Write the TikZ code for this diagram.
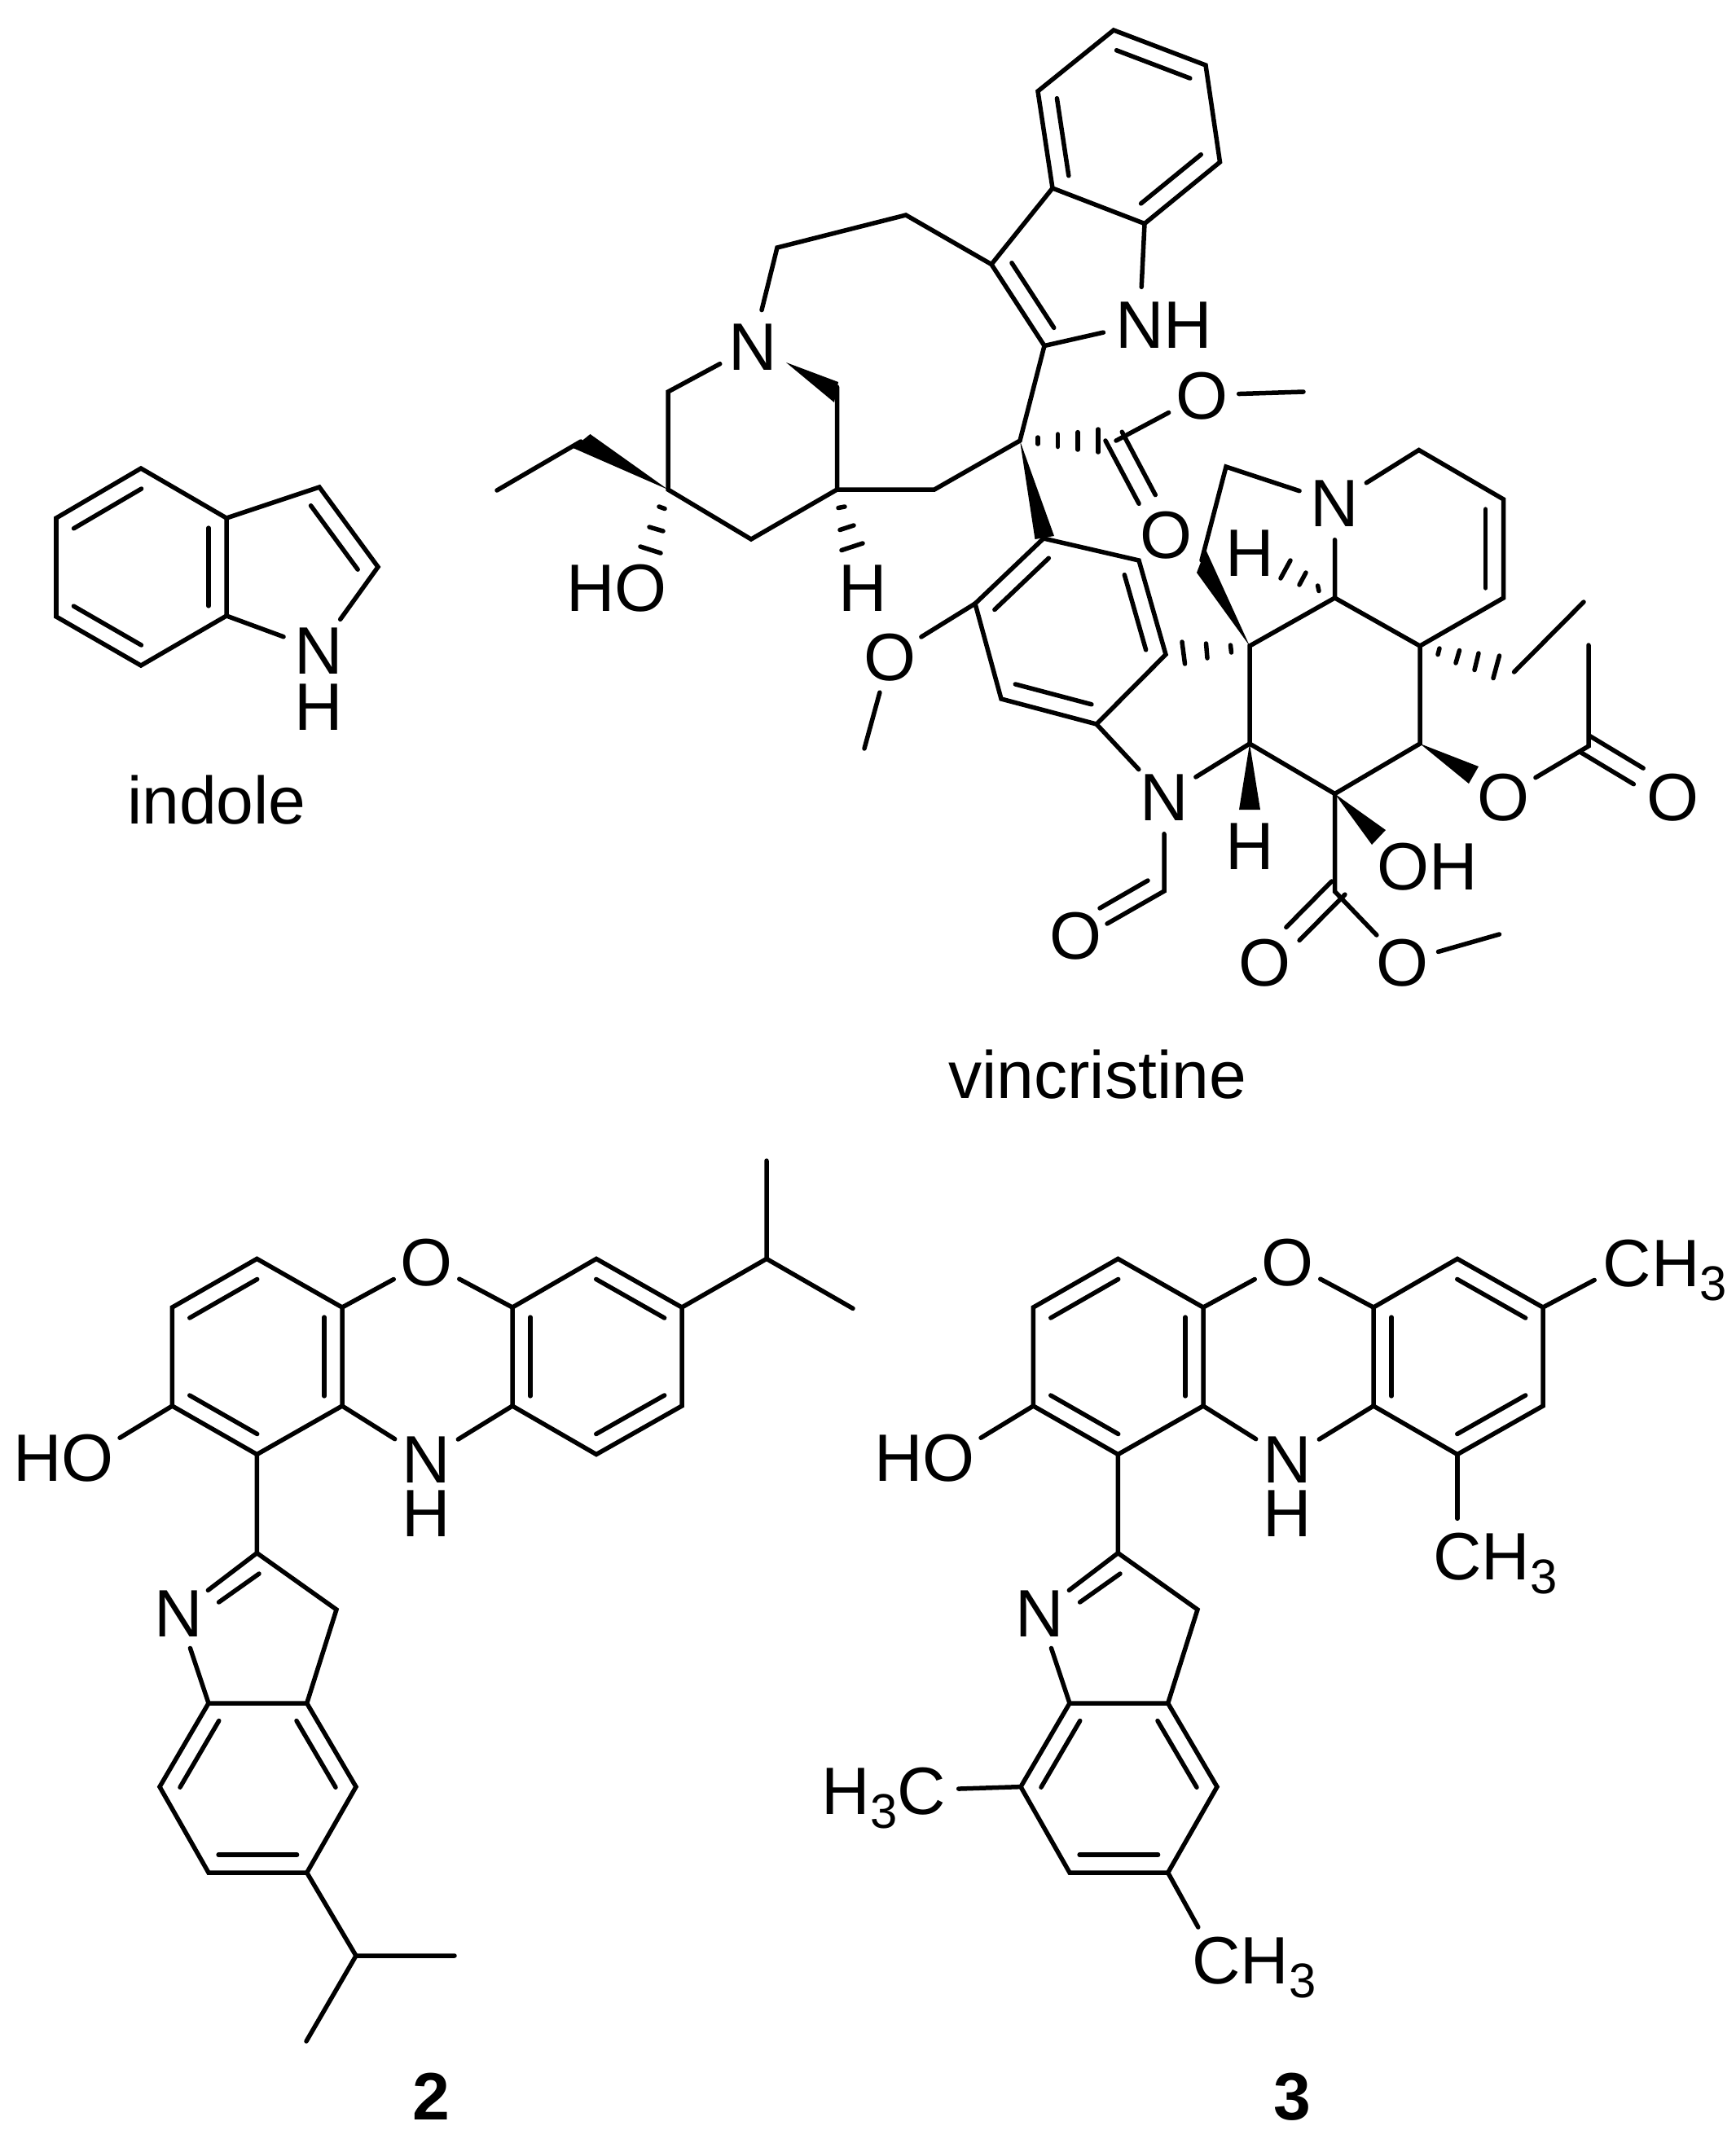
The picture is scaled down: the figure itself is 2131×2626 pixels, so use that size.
\documentclass[tikz,border=0pt]{standalone}
\usepackage{fontspec}
\setmainfont{Liberation Sans}
\usetikzlibrary{calc}
\newcommand{\threesub}{\raisebox{-0.17cm}{\fontsize{17}{20}\selectfont 3}}

\begin{document}
\begin{tikzpicture}[x=0.01cm,y=-0.01cm,
  bond/.style={line width=0.055cm,line cap=round},
  atom/.style={circle,inner sep=0pt,minimum size=0.9cm,text height=0.59cm,text depth=0pt,font=\fontsize{23.4}{28}\selectfont},
  hatom/.style={inner sep=0pt,text height=0.59cm,text depth=0pt,font=\fontsize{23.4}{28}\selectfont},
  caption/.style={anchor=base,inner sep=0pt,font=\fontsize{23.4}{28}\selectfont}]

\def\inbond#1#2{\draw[bond] ($(#1)!0.25cm!-61:(#2)$) -- ($(#2)!0.25cm!61:(#1)$);}
\def\cobond#1#2{
  \draw[bond] ($(#1)!0.13cm!118:(#2)$) -- ($(#2)!0.5cm!-13.2:(#1)$);
  \draw[bond] ($(#1)!0.13cm!-118:(#2)$) -- ($(#2)!0.5cm!13.2:(#1)$);
}

\useasboundingbox (0,0) rectangle (2131,2626);

% indole
\foreach \n/\xx/\yy in {ia/173/575,ib/278/636,ic/278/756,id/173/817,ie/69/757,if/69/636,ig/392/598,ih/464/696}
  \coordinate (\n) at (\xx,\yy);
\node[atom] (inh) at (391,797.5) {N};
\node[hatom] (inhh) at (391,867) {H};
\draw[bond] (ia) -- (ib) -- (ic) -- (id) -- (ie) -- (if) -- cycle;
\draw[bond] (ib) -- (ig) -- (ih) -- (inh) -- (ic);
\inbond{ib}{ic}
\inbond{id}{ie}
\inbond{if}{ia}
\inbond{ig}{ih}
\node[caption] (indolename) at (266,1011) {indole};

% vincristine
\foreach \n/\xx/\yy in {ba/1367/37,bb/1480/80,bc/1497.5/199,bd/1405/274.5,be/1292/231,bf/1274/112,
  pa/1217/324.5,pb/1282/424.5,ha/1112/264,hb/954/304,
  qa/820/481,qb/820/601,qc/922/662,qd/1027.5/601,qe/1027.5/475,qf/1147/601,cq/1252/541,
  eta/713/542,etb/610/602,est/1370/541,estm/1600/481,
  ara/1281/661,arb/1398/688,arc/1431/803.5,ard/1346/889,are/1229/858,arf/1197/741,ome/1061/919,
  cx/1534/793,cy/1638.5/734,cz/1743/793,cw/1845.6/734,cv/1845.6/613,cu/1741.7/552.5,cs/1505/573,cst/1475/688,
  cd/1534/913,ce/1743/913,cf/1638.5/974.5,etc/1858.6/825,etd/1944/739,
  cho/1429/1094,choe/1359/1134,choi/1409/1081,choj/1350/1115,
  acc/1950/916,acm/1950/792,cg/1638.5/1094.4,gme/1840.5/1147}
  \coordinate (\n) at (\xx,\yy);

\node[atom] (nva) at (924,425) {N};
\node[atom] (nhv) at (1399,398) {N\rlap{H}};
\node[atom] (ohq) at (787,720.5) {\llap{H}O};
\node[atom] (hq) at (1059,720.5) {H};
\node[atom] (oea) at (1475,485) {O};
\node[atom] (oeb) at (1431,656) {O};
\node[atom] (om) at (1092,806) {O};
\node[atom] (nvb) at (1638.5,617) {N};
\node[atom] (hy) at (1534,677.5) {H};
\node[atom] (nvc) at (1429,978) {N};
\node[atom] (oc) at (1320,1148) {O};
\node[atom] (hd) at (1534,1038) {H};
\node[atom] (of) at (1722,1063) {O\rlap{H}};
\node[atom] (oa) at (1845.6,978) {O};
\node[atom] (ob) at (2053,978) {O};
\node[atom] (oga) at (1552.7,1181) {O};
\node[atom] (ogb) at (1721.5,1181) {O};

\draw[bond] (ba) -- (bb) -- (bc) -- (bd) -- (be) -- (bf) -- cycle;
\draw[bond] (bd) -- (nhv) -- (pb) -- (pa) -- (be);
\inbond{ba}{bb}
\inbond{bc}{bd}
\inbond{be}{bf}
\inbond{pb}{pa}
\draw[bond] (pa) -- (ha) -- (hb) -- (nva) -- (qa) -- (qb) -- (qc) -- (qd) -- (qe);
\draw[bond] (qd) -- (qf) -- (cq) -- (pb);
\draw[bond] (eta) -- (etb);
\draw[bond] (est) -- (oea) -- (estm);
\cobond{est}{oeb}

\fill (965,445) -- (1029,469) -- (1024,494) -- cycle;
\fill (qb) -- (724.5,533) -- (703.5,550) -- cycle;
\fill (cq) -- (1294,658) -- (1270.5,662) -- cycle;
\fill (cx) -- (1480,674.5) -- (1469,703) -- cycle;
\fill (cd) -- (1547,994) -- (1521,994) -- cycle;
\fill (cf) -- (1701,1019) -- (1684,1037) -- cycle;
\fill (ce) -- (1815,941) -- (1803,962) -- cycle;

\foreach \xa/\ya/\xb/\yb in {809/622/816/624.5,797/647/814/652,786/671/811/679,
  1029/623.5/1037/622,1031/650.5/1048/645,1033/675.5/1059/667,
  1274/537/1274/545,1298.5/533/1298.5/548.5,1323/530.6/1323/552,1348/527/1348/555,
  1451/788/1454.5/815,1480.5/790/1482/808,1510.5/792/1511.5/801,
  1617.6/719/1619/725.5,1595/718/1603/703,1572/710/1584/688,
  1767/796/1765/803.6,1791.5/798.5/1787/814,1815/802/1810/822.5,1840.5/805/1833/832.6}
  \draw[bond] (\xa,\ya) -- (\xb,\yb);

\draw[bond] (ara) -- (arb) -- (arc) -- (ard) -- (are) -- (arf) -- cycle;
\inbond{arb}{arc}
\inbond{ard}{are}
\inbond{arf}{ara}
\draw[bond] (arf) -- (om) -- (ome);
\draw[bond] (ard) -- (nvc) -- (cd);
\draw[bond] (nvc) -- (cho) -- (choe);
\draw[bond] (choi) -- (choj);

\draw[bond] (cx) -- (cy) -- (cz) -- (ce) -- (cf) -- (cd) -- cycle;
\draw[bond] (cy) -- (nvb) -- (cu) -- (cv) -- (cw) -- (cz);
\inbond{cv}{cw}
\draw[bond] (nvb) -- (cs) -- (cst);
\draw[bond] (etc) -- (etd);
\draw[bond] (oa) -- (acc) -- (acm);
\cobond{acc}{ob}
\draw[bond] (cf) -- (cg) -- (ogb) -- (gme);
\cobond{cg}{oga}
\node[caption] (vincname) at (1347,1348) {vincristine};

% the two phenoxazines
\foreach \cpd/\dx/\num in {two/0/2,three/1057/3}{
\begin{scope}[shift={(\dx,0)},name prefix=\cpd-]
  \foreach \n/\xx/\yy in {aa/315.4/1545.4,ab/420/1605,ac/420/1726,ad/315.4/1785.5,ae/211.4/1726,af/211.4/1605,
    xa/629/1605,xb/732/1545.4,xc/837/1605,xd/837/1726,xe/732/1785.5,xf/629/1726,
    ca/315.4/1906.6,cb/413/1976,cc/376.7/2091,cj/256/2091,ci/268.6/1967,ch/318/1932,
    cd/437/2193.6,ce/376.7/2299,cf/256/2299,cg/196/2193.6}
    \coordinate (\n) at (\xx,\yy);
  \node[atom] (ox) at (523.4,1548.6) {O};
  \node[atom] (nr) at (523.4,1791) {N};
  \node[hatom] (nrh) at (523.4,1857.4) {H};
  \node[atom] (ho) at (108,1789) {\llap{H}O};
  \node[atom] (ni) at (219,1980) {N};
  \draw[bond] (aa) -- (ab) -- (ac) -- (ad) -- (ae) -- (af) -- cycle;
  \draw[bond] (xa) -- (xb) -- (xc) -- (xd) -- (xe) -- (xf) -- cycle;
  \draw[bond] (ab) -- (ox) -- (xa);
  \draw[bond] (ac) -- (nr) -- (xf);
  \draw[bond] (ae) -- (ho);
  \inbond{ab}{ac}
  \inbond{ad}{ae}
  \inbond{af}{aa}
  \inbond{xb}{xc}
  \inbond{xd}{xe}
  \inbond{xf}{xa}
  \draw[bond] (ad) -- (ca) -- (cb) -- (cc) -- (cj) -- (ni) -- (ca);
  \draw[bond] (ch) -- (ci);
  \draw[bond] (cc) -- (cd) -- (ce) -- (cf) -- (cg) -- (cj);
  \inbond{cc}{cd}
  \inbond{ce}{cf}
  \inbond{cg}{cj}
  \node[caption,font=\fontsize{23.4}{28}\selectfont\bfseries] (num) at (529,2602.5) {\num};
\end{scope}
}

% isopropyls of 2
\coordinate (ipa) at (941,1545.4);
\coordinate (ipb) at (941,1425);
\coordinate (ipc) at (1047,1606.4);
\coordinate (ipd) at (437,2401);
\coordinate (ipe) at (558,2401);
\coordinate (ipf) at (376,2506);
\draw[bond] (two-xc) -- (ipa) -- (ipb);
\draw[bond] (ipa) -- (ipc);
\draw[bond] (two-ce) -- (ipd) -- (ipe);
\draw[bond] (ipd) -- (ipf);

% methyls of 3
\node[atom] (mea) at (1997.6,1550) {C\rlap{H\threesub}};
\node[atom] (meb) at (1789,1910) {C\rlap{H\threesub}};
\node[atom] (mec) at (1131,2197.5) {\llap{H\threesub}C};
\node[atom] (med) at (1493,2406) {C\rlap{H\threesub}};
\draw[bond] (three-xc) -- (mea);
\draw[bond] (three-xe) -- (meb);
\draw[bond] (three-cg) -- (mec);
\draw[bond] (three-ce) -- (med);

\end{tikzpicture}
\end{document}
